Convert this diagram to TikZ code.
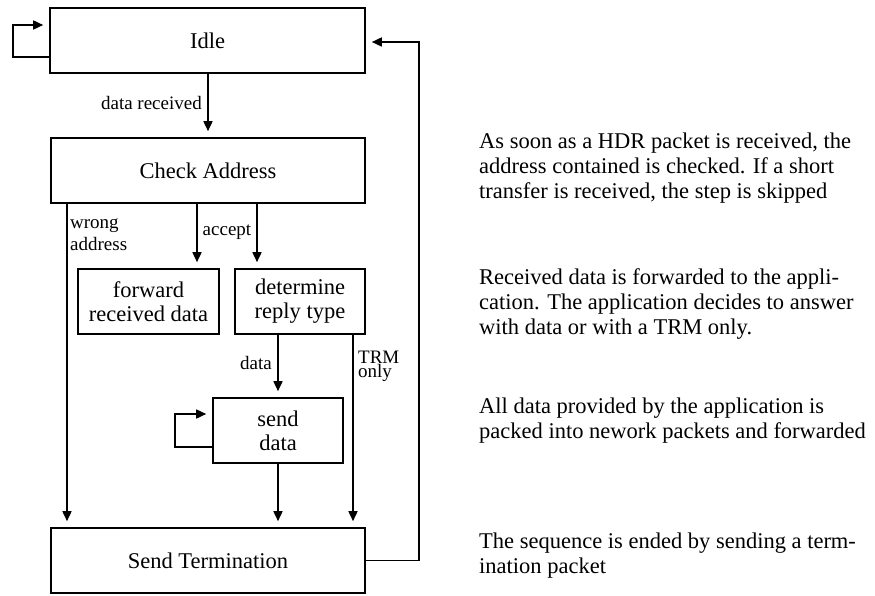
\documentclass[tikz,border=0pt]{standalone}
\usepackage{fontspec}
\setmainfont{Liberation Serif}
\usetikzlibrary{arrows.meta,calc}
\begin{document}
\begin{tikzpicture}[x=1pt,y=-1pt,
  state/.style={draw,line width=1.6pt,rectangle,inner sep=0pt,align=center,
    font=\fontsize{22.5}{24}\selectfont},
  arr/.style={line width=1.6pt,-{Triangle[length=10pt,width=9pt]},shorten >=6pt},
  lbl/.style={inner sep=0pt,font=\fontsize{19}{22}\selectfont},
  note/.style={inner sep=0pt,anchor=west,align=left,font=\fontsize{22.5}{25}\selectfont}]
\useasboundingbox (0,0) rectangle (875,596);

% states
\node[state,minimum width=315pt,minimum height=65pt] (idle) at (207.5,40.5) {Idle};
\node[state,minimum width=314pt,minimum height=65pt] (check) at (208,170.5) {Check Address};
\node[state,minimum width=141pt,minimum height=65pt] (fwd) at (148.5,301.5) {forward\\received data};
\node[state,minimum width=130pt,minimum height=65pt] (det) at (300,301.5) {determine\\reply type};
\node[state,minimum width=130pt,minimum height=65pt] (send) at (278,430.5) {send\\data};
\node[state,minimum width=314pt,minimum height=65pt] (term) at (208,560.5) {Send Termination};

% helper coordinates for routing
\coordinate (wx) at (67,0);
\coordinate (ax) at (197,0);
\coordinate (dx) at (257,0);
\coordinate (tx) at (353,0);
\coordinate (rx) at (419,0);
\coordinate (iloop) at (13,0);
\coordinate (sloop) at (175,0);
\coordinate (ia) at ([yshift=-16.5pt]idle.west);
\coordinate (ib) at ([yshift=15.5pt]idle.west);
\coordinate (sa) at ([yshift=-16.5pt]send.west);
\coordinate (sb) at ([yshift=16.5pt]send.west);
\coordinate (ie) at ([yshift=-1.5pt]idle.east);

% transitions
\draw[arr] (idle.south -| check.north) -- (check.north);
\draw[arr] (check.south -| wx) -- (term.north -| wx);
\draw[arr] (check.south -| ax) -- (fwd.north -| ax);
\draw[arr] (check.south -| dx) -- (det.north -| dx);
\draw[arr] (det.south -| send.north) -- (send.north);
\draw[arr] (det.south -| tx) -- (term.north -| tx);
\draw[arr] (send.south) -- (term.north -| send.south);

% self loops
\draw[arr] (ia) -| (iloop |- ib) -- (ib);
\draw[arr] (sa) -| (sloop |- sb) -- (sb);

% back to idle
\draw[arr] (term.east) -| (rx |- ie) -- (ie);

% transition labels
\node[lbl,anchor=east] (lrec) at (202,103) {data received};
\node[lbl,anchor=north west,align=left] (lwrong) at (70,219) {wrong\\address};
\node[lbl] (lacc) at (227,232) {accept};
\node[lbl] (ldata) at (256,363) {data};
\node[lbl,anchor=west,align=left,font=\fontsize{19}{14}\selectfont] (ltrm) at (358,366) {TRM\\only};

% explanations
\node[note] (n1) at (479,168) {As soon as a HDR packet is received, the\\address contained is checked. If a short\\transfer is received, the step is skipped};
\node[note] (n2) at (479,304) {Received data is forwarded to the appli-\\cation. The application decides to answer\\with data or with a TRM only.};
\node[note] (n3) at (479,420.5) {All data provided by the application is\\packed into nework packets and forwarded};
\node[note] (n4) at (479,555.5) {The sequence is ended by sending a term-\\ination packet};
\end{tikzpicture}
\end{document}
